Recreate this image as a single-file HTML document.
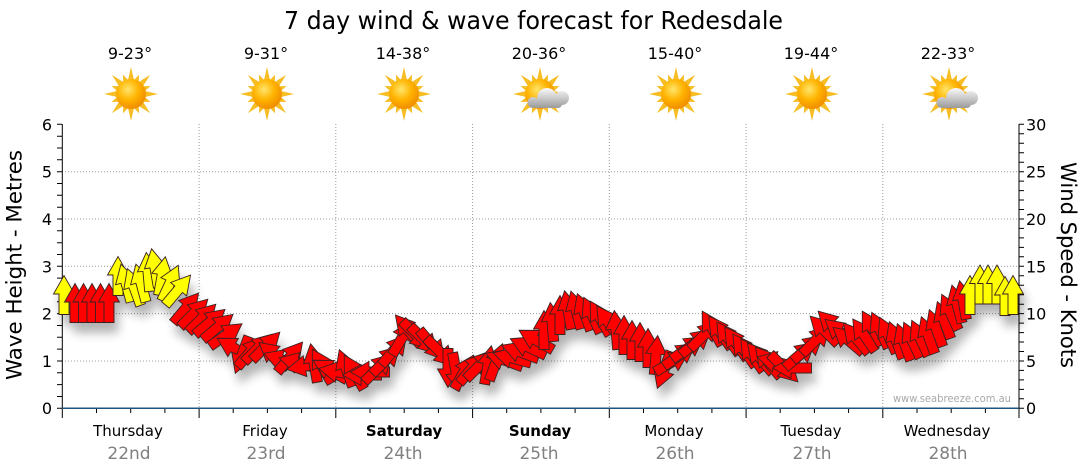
<!DOCTYPE html>
<html><head><meta charset="utf-8"><style>
html,body{margin:0;padding:0;background:#fff;}
svg{display:block;}
.r{fill:#ff0000}.y{fill:#ffff00}
text{font-family:"DejaVu Sans","Liberation Sans",sans-serif;}
</style></head><body>
<svg width="1080" height="475" viewBox="0 0 1080 475" xmlns="http://www.w3.org/2000/svg">
<defs>
<path id="a" d="M0,-19.5 L10.5,-1 L5,-1 L5,19.5 L-5,19.5 L-5,-1 L-10.5,-1 Z"/>
<radialGradient id="sunG" cx="40%" cy="35%" r="70%">
<stop offset="0" stop-color="#ffe56a"/><stop offset="0.5" stop-color="#ffb400"/><stop offset="1" stop-color="#ee8800"/>
</radialGradient>
<linearGradient id="cloudG" gradientUnits="userSpaceOnUse" x1="0" y1="-6" x2="0" y2="14">
<stop offset="0" stop-color="#fbfbfb"/><stop offset="1" stop-color="#9a9a9a"/>
</linearGradient>
<polygon id="rl" points="0,-27 3.2,-13 -3.2,-13"/>
<polygon id="rs" points="0,-21 3,-13 -3,-13"/>
<g id="sun">
<g fill="#f6bd25">
<use href="#rl"/><use href="#rl" transform="rotate(45)"/><use href="#rl" transform="rotate(90)"/><use href="#rl" transform="rotate(135)"/>
<use href="#rl" transform="rotate(180)"/><use href="#rl" transform="rotate(225)"/><use href="#rl" transform="rotate(270)"/><use href="#rl" transform="rotate(315)"/>
<use href="#rs" transform="rotate(22.5)"/><use href="#rs" transform="rotate(67.5)"/><use href="#rs" transform="rotate(112.5)"/><use href="#rs" transform="rotate(157.5)"/>
<use href="#rs" transform="rotate(202.5)"/><use href="#rs" transform="rotate(247.5)"/><use href="#rs" transform="rotate(292.5)"/><use href="#rs" transform="rotate(337.5)"/>
</g>
<circle r="15" fill="url(#sunG)"/>
</g>
<g id="pc">
<use href="#sun"/>
<g fill="url(#cloudG)">
<circle cx="7" cy="4" r="10"/><circle cx="22" cy="4" r="7"/><circle cx="-7" cy="8.5" r="5.5"/>
<rect x="-7" y="5" width="29" height="9" rx="4"/>
</g>
</g>
<filter id="sh" x="-5%" y="-20%" width="110%" height="160%">
<feGaussianBlur in="SourceAlpha" stdDeviation="5"/>
<feOffset dx="4" dy="10"/>
<feComponentTransfer><feFuncA type="linear" slope="0.3"/></feComponentTransfer>
<feMerge><feMergeNode/><feMergeNode in="SourceGraphic"/></feMerge>
</filter>
</defs>

<text x="284" y="29" font-size="25" textLength="499" lengthAdjust="spacingAndGlyphs" fill="#000">7 day wind &amp; wave forecast for Redesdale</text>

<g font-size="16" text-anchor="middle" fill="#000">
<text x="130" y="59">9-23°</text>
<text x="266" y="59">9-31°</text>
<text x="403" y="59">14-38°</text>
<text x="539" y="59">20-36°</text>
<text x="675" y="59">15-40°</text>
<text x="811" y="59">19-44°</text>
<text x="948" y="59">22-33°</text>
</g>

<use href="#sun" transform="translate(131,94)"/>
<use href="#sun" transform="translate(267,94)"/>
<use href="#sun" transform="translate(404,94)"/>
<use href="#pc" transform="translate(540,94)"/>
<use href="#sun" transform="translate(676,94)"/>
<use href="#sun" transform="translate(812,94)"/>
<use href="#pc" transform="translate(949,94)"/>

<g stroke="#9a9a9a" stroke-width="1" stroke-dasharray="1 2" fill="none">
<path d="M62,361 H1019 M62,313.6 H1019 M62,266.3 H1019 M62,219 H1019 M62,171.7 H1019"/>
<path d="M199.1,124 V408 M335.8,124 V408 M472.6,124 V408 M609.3,124 V408 M746.1,124 V408 M882.8,124 V408"/>
</g>

<g stroke="#000" stroke-width="1" fill="none">
<path d="M62.3,124 V408.3 M1019,124 V408.3"/>
<path d="M57,408.3H62 M57,396.5H62 M57,384.6H62 M57,372.8H62 M57,361H62 M57,349.1H62 M57,337.3H62 M57,325.5H62 M57,313.6H62 M57,301.8H62 M57,290H62 M57,278.1H62 M57,266.3H62 M57,254.5H62 M57,242.7H62 M57,230.8H62 M57,219H62 M57,207.2H62 M57,195.3H62 M57,183.5H62 M57,171.7H62 M57,159.8H62 M57,148H62 M57,136.2H62 M57,124.3H62"/>
<path d="M1019,408.3h5 M1019,398.8h5 M1019,389.4h5 M1019,379.9h5 M1019,370.4h5 M1019,361h5 M1019,351.5h5 M1019,342h5 M1019,332.6h5 M1019,323.1h5 M1019,313.6h5 M1019,304.2h5 M1019,294.7h5 M1019,285.2h5 M1019,275.8h5 M1019,266.3h5 M1019,256.8h5 M1019,247.4h5 M1019,237.9h5 M1019,228.4h5 M1019,219h5 M1019,209.5h5 M1019,200h5 M1019,190.6h5 M1019,181.1h5 M1019,171.7h5 M1019,162.2h5 M1019,152.7h5 M1019,143.2h5 M1019,133.8h5 M1019,124.3h5"/>
<path d="M62.3,408V418 M96.5,408V413 M130.7,408V413 M164.9,408V413 M199.1,408V418 M233.2,408V413 M267.4,408V413 M301.6,408V413 M335.8,408V418 M370,408V413 M404.2,408V413 M438.4,408V413 M472.6,408V418 M506.7,408V413 M540.9,408V413 M575.1,408V413 M609.3,408V418 M643.5,408V413 M677.7,408V413 M711.9,408V413 M746.1,408V418 M780.2,408V413 M814.4,408V413 M848.6,408V413 M882.8,408V418 M917,408V413 M951.2,408V413 M985.4,408V413 M1019,408V418"/>
</g>
<path d="M62,408.3 H1019" stroke="#1c5480" stroke-width="1.5"/>

<g font-size="16" fill="#000" text-anchor="end">
<text x="52" y="414">0</text><text x="52" y="367">1</text><text x="52" y="319.6">2</text><text x="52" y="272.3">3</text><text x="52" y="225">4</text><text x="52" y="177.7">5</text><text x="52" y="130.3">6</text>
</g>
<g font-size="16" fill="#000">
<text x="1026" y="414">0</text><text x="1026" y="367">5</text><text x="1026" y="319.6">10</text><text x="1026" y="272.3">15</text><text x="1026" y="225">20</text><text x="1026" y="177.7">25</text><text x="1026" y="130.3">30</text>
</g>

<text transform="translate(21.5,265) rotate(-90)" font-size="21" text-anchor="middle" textLength="230" lengthAdjust="spacingAndGlyphs" fill="#000">Wave Height - Metres</text>
<text transform="translate(1061,265) rotate(90)" font-size="21" text-anchor="middle" textLength="206" lengthAdjust="spacingAndGlyphs" fill="#000">Wind Speed - Knots</text>

<g font-size="15" text-anchor="middle" fill="#000">
<text x="128" y="436">Thursday</text>
<text x="265" y="436">Friday</text>
<text x="404" y="436" font-weight="bold">Saturday</text>
<text x="540" y="436" font-weight="bold">Sunday</text>
<text x="674" y="436">Monday</text>
<text x="811" y="436">Tuesday</text>
<text x="947" y="436">Wednesday</text>
</g>
<g font-size="17" text-anchor="middle" fill="#808080">
<text x="129" y="459">22nd</text>
<text x="266" y="459">23rd</text>
<text x="403" y="459">24th</text>
<text x="539" y="459">25th</text>
<text x="675" y="459">26th</text>
<text x="812" y="459">27th</text>
<text x="948" y="459">28th</text>
</g>

<text x="893" y="402" font-size="11" fill="#a8a8a8" textLength="118" lengthAdjust="spacingAndGlyphs">www.seabreeze.com.au</text>

<g filter="url(#sh)" stroke="#3a2222" stroke-width="0.9" stroke-linejoin="miter">
<use href="#a" class="y" transform="translate(64,295) rotate(0)"/>
<use href="#a" class="r" transform="translate(75,303) rotate(0)"/>
<use href="#a" class="r" transform="translate(83.5,303) rotate(0)"/>
<use href="#a" class="r" transform="translate(92,303) rotate(0)"/>
<use href="#a" class="r" transform="translate(100.5,303) rotate(0)"/>
<use href="#a" class="r" transform="translate(109,303) rotate(0)"/>
<use href="#a" class="y" transform="translate(118,276) rotate(0)"/>
<use href="#a" class="y" transform="translate(126,283) rotate(-15)"/>
<use href="#a" class="y" transform="translate(134,287) rotate(-20)"/>
<use href="#a" class="y" transform="translate(141,283) rotate(-15)"/>
<use href="#a" class="y" transform="translate(148,272) rotate(-5)"/>
<use href="#a" class="y" transform="translate(155,268) rotate(-10)"/>
<use href="#a" class="y" transform="translate(162,276) rotate(10)"/>
<use href="#a" class="y" transform="translate(170,283) rotate(25)"/>
<use href="#a" class="y" transform="translate(178,290) rotate(40)"/>
<use href="#a" class="r" transform="translate(186,308) rotate(40)"/>
<use href="#a" class="r" transform="translate(194,313) rotate(45)"/>
<use href="#a" class="r" transform="translate(202,318) rotate(45)"/>
<use href="#a" class="r" transform="translate(210,322) rotate(50)"/>
<use href="#a" class="r" transform="translate(218,327) rotate(50)"/>
<use href="#a" class="r" transform="translate(226,335) rotate(55)"/>
<use href="#a" class="r" transform="translate(234,348) rotate(-60)"/>
<use href="#a" class="r" transform="translate(242,355) rotate(-160)"/>
<use href="#a" class="r" transform="translate(250,352) rotate(40)"/>
<use href="#a" class="r" transform="translate(258,348) rotate(45)"/>
<use href="#a" class="r" transform="translate(266,346) rotate(45)"/>
<use href="#a" class="r" transform="translate(274,355) rotate(-50)"/>
<use href="#a" class="r" transform="translate(282,360) rotate(-70)"/>
<use href="#a" class="r" transform="translate(290,357) rotate(40)"/>
<use href="#a" class="r" transform="translate(298,363) rotate(-75)"/>
<use href="#a" class="r" transform="translate(306,366) rotate(-100)"/>
<use href="#a" class="r" transform="translate(314,363) rotate(-10)"/>
<use href="#a" class="r" transform="translate(322,366) rotate(-30)"/>
<use href="#a" class="r" transform="translate(330,370) rotate(-60)"/>
<use href="#a" class="r" transform="translate(338,372) rotate(-80)"/>
<use href="#a" class="r" transform="translate(346,368) rotate(-20)"/>
<use href="#a" class="r" transform="translate(354,372) rotate(-30)"/>
<use href="#a" class="r" transform="translate(362,375) rotate(-90)"/>
<use href="#a" class="r" transform="translate(370,372) rotate(-90)"/>
<use href="#a" class="r" transform="translate(378,368) rotate(45)"/>
<use href="#a" class="r" transform="translate(386,360) rotate(45)"/>
<use href="#a" class="r" transform="translate(394,350) rotate(40)"/>
<use href="#a" class="r" transform="translate(402,338) rotate(30)"/>
<use href="#a" class="r" transform="translate(408,330) rotate(-40)"/>
<use href="#a" class="r" transform="translate(416,335) rotate(135)"/>
<use href="#a" class="r" transform="translate(424,340) rotate(135)"/>
<use href="#a" class="r" transform="translate(432,345) rotate(140)"/>
<use href="#a" class="r" transform="translate(440,352) rotate(135)"/>
<use href="#a" class="r" transform="translate(448,368) rotate(180)"/>
<use href="#a" class="r" transform="translate(456,372) rotate(170)"/>
<use href="#a" class="r" transform="translate(464,372) rotate(30)"/>
<use href="#a" class="r" transform="translate(472,368) rotate(40)"/>
<use href="#a" class="r" transform="translate(480,365) rotate(45)"/>
<use href="#a" class="r" transform="translate(488,365) rotate(10)"/>
<use href="#a" class="r" transform="translate(496,362) rotate(20)"/>
<use href="#a" class="r" transform="translate(504,360) rotate(-70)"/>
<use href="#a" class="r" transform="translate(512,358) rotate(-75)"/>
<use href="#a" class="r" transform="translate(520,352) rotate(-70)"/>
<use href="#a" class="r" transform="translate(528,347) rotate(-65)"/>
<use href="#a" class="r" transform="translate(536,340) rotate(-60)"/>
<use href="#a" class="r" transform="translate(544,330) rotate(0)"/>
<use href="#a" class="r" transform="translate(552,322) rotate(-5)"/>
<use href="#a" class="r" transform="translate(560,315) rotate(0)"/>
<use href="#a" class="r" transform="translate(568,310) rotate(-10)"/>
<use href="#a" class="r" transform="translate(576,310) rotate(-15)"/>
<use href="#a" class="r" transform="translate(584,312) rotate(-20)"/>
<use href="#a" class="r" transform="translate(592,315) rotate(-25)"/>
<use href="#a" class="r" transform="translate(600,318) rotate(-30)"/>
<use href="#a" class="r" transform="translate(608,322) rotate(-35)"/>
<use href="#a" class="r" transform="translate(616,330) rotate(-5)"/>
<use href="#a" class="r" transform="translate(624,335) rotate(0)"/>
<use href="#a" class="r" transform="translate(632,340) rotate(0)"/>
<use href="#a" class="r" transform="translate(640,342) rotate(0)"/>
<use href="#a" class="r" transform="translate(648,348) rotate(0)"/>
<use href="#a" class="r" transform="translate(656,355) rotate(5)"/>
<use href="#a" class="r" transform="translate(664,370) rotate(200)"/>
<use href="#a" class="r" transform="translate(672,362) rotate(60)"/>
<use href="#a" class="r" transform="translate(680,355) rotate(55)"/>
<use href="#a" class="r" transform="translate(688,348) rotate(55)"/>
<use href="#a" class="r" transform="translate(696,342) rotate(50)"/>
<use href="#a" class="r" transform="translate(704,335) rotate(45)"/>
<use href="#a" class="r" transform="translate(712,328) rotate(-30)"/>
<use href="#a" class="r" transform="translate(720,332) rotate(-35)"/>
<use href="#a" class="r" transform="translate(728,338) rotate(-35)"/>
<use href="#a" class="r" transform="translate(736,343) rotate(-35)"/>
<use href="#a" class="r" transform="translate(744,350) rotate(-35)"/>
<use href="#a" class="r" transform="translate(752,355) rotate(-35)"/>
<use href="#a" class="r" transform="translate(760,358) rotate(-40)"/>
<use href="#a" class="r" transform="translate(768,362) rotate(-40)"/>
<use href="#a" class="r" transform="translate(776,362) rotate(-75)"/>
<use href="#a" class="r" transform="translate(784,368) rotate(135)"/>
<use href="#a" class="r" transform="translate(792,368) rotate(-90)"/>
<use href="#a" class="r" transform="translate(800,355) rotate(50)"/>
<use href="#a" class="r" transform="translate(808,348) rotate(50)"/>
<use href="#a" class="r" transform="translate(816,340) rotate(45)"/>
<use href="#a" class="r" transform="translate(824,330) rotate(-45)"/>
<use href="#a" class="r" transform="translate(832,325) rotate(-45)"/>
<use href="#a" class="r" transform="translate(840,332) rotate(-50)"/>
<use href="#a" class="r" transform="translate(848,340) rotate(-50)"/>
<use href="#a" class="r" transform="translate(856,338) rotate(-40)"/>
<use href="#a" class="r" transform="translate(864,335) rotate(-35)"/>
<use href="#a" class="r" transform="translate(872,328) rotate(-30)"/>
<use href="#a" class="r" transform="translate(880,330) rotate(-25)"/>
<use href="#a" class="r" transform="translate(888,335) rotate(-25)"/>
<use href="#a" class="r" transform="translate(896,340) rotate(-20)"/>
<use href="#a" class="r" transform="translate(904,342) rotate(-20)"/>
<use href="#a" class="r" transform="translate(912,340) rotate(-25)"/>
<use href="#a" class="r" transform="translate(920,338) rotate(-25)"/>
<use href="#a" class="r" transform="translate(928,335) rotate(-20)"/>
<use href="#a" class="r" transform="translate(936,328) rotate(-20)"/>
<use href="#a" class="r" transform="translate(944,320) rotate(-20)"/>
<use href="#a" class="r" transform="translate(950,312) rotate(-25)"/>
<use href="#a" class="r" transform="translate(957,304) rotate(-15)"/>
<use href="#a" class="r" transform="translate(963,300) rotate(-10)"/>
<use href="#a" class="y" transform="translate(970,295) rotate(0)"/>
<use href="#a" class="y" transform="translate(980,284.5) rotate(0)"/>
<use href="#a" class="y" transform="translate(988,284.5) rotate(0)"/>
<use href="#a" class="y" transform="translate(997,284.5) rotate(0)"/>
<use href="#a" class="y" transform="translate(1005,296) rotate(0)"/>
<use href="#a" class="y" transform="translate(1013,295) rotate(0)"/>
</g>
</svg>
</body></html>
